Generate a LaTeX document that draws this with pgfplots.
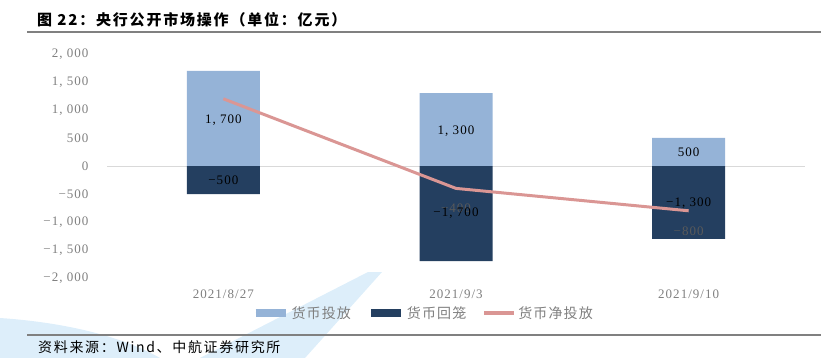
\documentclass[border=0pt]{standalone}
\usepackage{pgfplots}
\pgfplotsset{compat=1.18}
\usepackage{fontspec}
\setmainfont{Liberation Serif}
\newfontfamily\tkfont[LetterSpace=8]{Liberation Serif}
\newfontfamily\cjk{Noto Sans CJK SC}
\newfontfamily\cjks[LetterSpace=12]{Noto Sans CJK SC}
\newfontfamily\cjkl[LetterSpace=8]{Noto Sans CJK SC}
\definecolor{cA}{HTML}{95B3D7}
\definecolor{cB}{HTML}{243F60}
\definecolor{cL}{HTML}{DA9694}
\definecolor{wm}{HTML}{DDEEFA}
\definecolor{tk}{HTML}{7F7F7F}
\definecolor{nl}{HTML}{5A5A5A}
\begin{document}
\begin{tikzpicture}[x=1pt,y=-1pt]
\path[use as bounding box] (0,0) rectangle (821,358);
% watermark
\fill[wm] (368,272) -- (382,272) -- (305,358) -- (200,358) -- cycle;
\fill[wm] (0,318) .. controls (60,322) and (120,335) .. (160,358) -- (0,358) -- cycle;
% title
\node[anchor=west, inner sep=0pt] at (37,20) {\cjks\bfseries\fontsize{15}{15}\selectfont 图 22：央行公开市场操作（单位：亿元）};
\draw[gray, line width=1.5pt] (27,32) -- (821,32);
\draw[gray, line width=1.5pt] (27,335) -- (821,335);
\node[anchor=west, inner sep=0pt] at (38,347) {\cjks\fontsize{14}{14}\selectfont 资料来源：Wind、中航证券研究所};
\begin{axis}[at={(107pt,-278pt)}, anchor=south west, scale only axis,
  width=698pt, height=224pt,
  xmin=-0.5, xmax=2.5, ymin=-2000, ymax=2000,
  axis line style={draw=none}, tick style={draw=none},
  xtick={0,1,2}, xticklabels={2021/8/27,2021/9/3,2021/9/10},
  ytick={-2000,-1500,-1000,-500,0,500,1000,1500,2000},
  yticklabels={{−2,\ 000},{−1,\ 500},{−1,\ 000},{−500},{0},{500},{1,\ 000},{1,\ 500},{2,\ 000}},
  ticklabel style={font=\tkfont\fontsize{13}{13}\selectfont, text=tk},
  yticklabel style={xshift=-15pt},
  xticklabel style={yshift=-8pt},
  clip=false,
  legend style={at={(0.453,-0.156)}, anchor=center, draw=none, fill=none,
    legend columns=3, font=\cjkl\fontsize{14}{14}\selectfont, text=tk,
    /tikz/every even column/.append style={column sep=14pt}},
]
\draw[gray!30, line width=1pt] (axis cs:-0.5,0) -- (axis cs:2.5,0);
\addplot[ybar, bar width=73pt, bar shift=0pt, fill=cA, draw=none,
  legend image code/.code={\draw[line width=8pt, cA] (0pt,0pt) -- (30pt,0pt);}]
  coordinates {(0,1700) (1,1300) (2,500)};
\addlegendentry{货币投放}
\addplot[ybar, bar width=73pt, bar shift=0pt, fill=cB, draw=none,
  legend image code/.code={\draw[line width=8pt, cB] (0pt,0pt) -- (30pt,0pt);}]
  coordinates {(0,-500) (1,-1700) (2,-1300)};
\addlegendentry{货币回笼}
\addplot[forget plot, draw=none, mark=none, nodes near coords, point meta=explicit symbolic,
  every node near coord/.append style={anchor=center, yshift=-20pt, text=nl, font=\tkfont\fontsize{13}{13}\selectfont}]
  coordinates {(0,1200)[\phantom{0}] (1,-400)[−400] (2,-800)[−800]};
\addplot[forget plot, draw=none, mark=none, nodes near coords, point meta=explicit symbolic,
  every node near coord/.append style={anchor=center, text=black, font=\tkfont\fontsize{13}{13}\selectfont}]
  coordinates {(0,820)[{1,\ 700}] (1,625)[{1,\ 300}] (2,250)[500]
               (0,-250)[−500] (1,-850)[{−1,\ 700}] (2,-660)[{−1,\ 300}]};
\addplot[cL, line width=3pt, mark=none,
  legend image code/.code={\draw[line width=4pt, cL] (0pt,0pt) -- (30pt,0pt);}]
  coordinates {(0,1200) (1,-400) (2,-800)};
\addlegendentry{货币净投放}
\end{axis}
\end{tikzpicture}
\end{document}
